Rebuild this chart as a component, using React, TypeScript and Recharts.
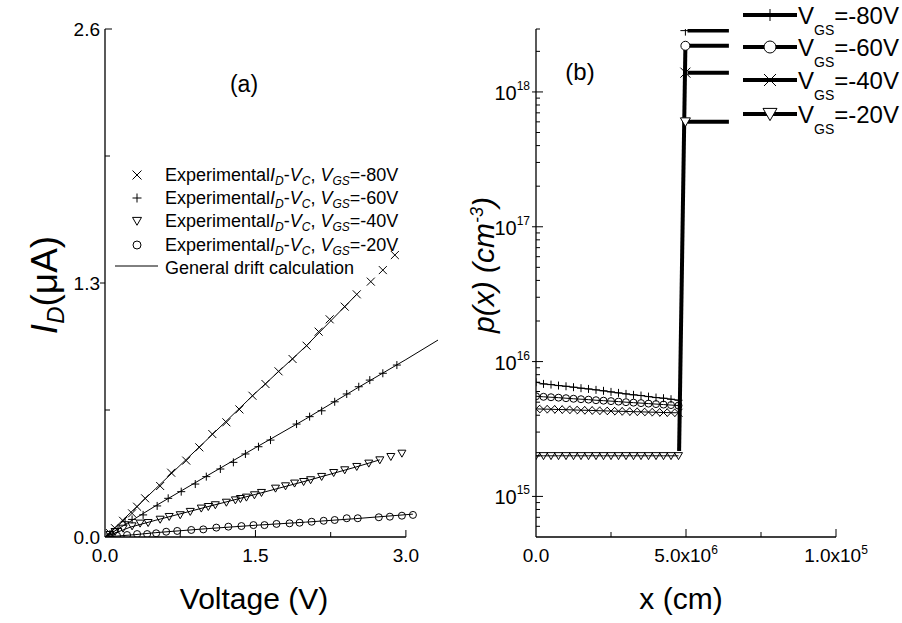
import React from 'react';
import { ScatterChart, Scatter, XAxis, YAxis, ReferenceLine, Legend, Label } from 'recharts';

const FONT = 'Arial, "Liberation Sans", Helvetica, sans-serif';

// ---------------- Panel (a) data ----------------
const xTicksA = [0, 0.75, 1.5, 2.25, 3.0];
const xTickLabelsA = ['0.0', '', '1.5', '', '3.0'];
const yTicksA = [0, 0.65, 1.3, 1.95, 2.6];
const yTickLabelsA = ['0.0', '', '1.3', '', '2.6'];

// experimental points, V_GS = -80 V (x markers)
const expV80 = [0.05, 0.1, 0.18, 0.27, 0.32, 0.4, 0.55, 0.66, 0.81, 0.94, 1.07, 1.21, 1.34, 1.47, 1.6, 1.73, 1.87, 2.01, 2.13, 2.24, 2.39, 2.51, 2.65, 2.77, 2.89];
const expI80 = [0.02, 0.045, 0.083, 0.121, 0.155, 0.198, 0.261, 0.329, 0.391, 0.459, 0.527, 0.587, 0.653, 0.723, 0.783, 0.848, 0.911, 0.979, 1.051, 1.114, 1.179, 1.242, 1.307, 1.366, 1.443];
// V_GS = -60 V (+ markers)
const expV60 = [0.05, 0.13, 0.2, 0.27, 0.38, 0.52, 0.63, 0.76, 0.9, 1.01, 1.15, 1.28, 1.4, 1.53, 1.65, 1.91, 2.04, 2.16, 2.29, 2.41, 2.53, 2.64, 2.77, 2.91];
const expI60 = [0.015, 0.044, 0.078, 0.09, 0.113, 0.159, 0.198, 0.232, 0.271, 0.309, 0.348, 0.382, 0.425, 0.462, 0.496, 0.578, 0.616, 0.646, 0.692, 0.732, 0.769, 0.803, 0.838, 0.88];
// V_GS = -40 V (triangles)
const expV40 = [0.05, 0.1, 0.18, 0.27, 0.35, 0.43, 0.55, 0.64, 0.75, 0.85, 0.96, 1.03, 1.1, 1.21, 1.3, 1.35, 1.41, 1.49, 1.56, 1.7, 1.8, 1.89, 1.98, 2.05, 2.16, 2.28, 2.39, 2.51, 2.63, 2.74, 2.85, 2.96];
const expI40 = [0.012, 0.027, 0.044, 0.056, 0.07, 0.073, 0.09, 0.104, 0.113, 0.13, 0.147, 0.155, 0.164, 0.177, 0.189, 0.196, 0.203, 0.215, 0.227, 0.249, 0.261, 0.275, 0.283, 0.292, 0.309, 0.329, 0.343, 0.36, 0.377, 0.394, 0.411, 0.428];
// V_GS = -20 V (circles)
const expV20 = [0.12, 0.22, 0.32, 0.42, 0.51, 0.61, 0.72, 0.86, 0.98, 1.11, 1.23, 1.36, 1.48, 1.59, 1.71, 1.84, 1.94, 2.06, 2.18, 2.29, 2.41, 2.52, 2.73, 2.84, 2.96, 3.07];
const expI20 = [0.006, 0.01, 0.015, 0.015, 0.019, 0.027, 0.031, 0.036, 0.039, 0.048, 0.053, 0.056, 0.061, 0.061, 0.067, 0.07, 0.073, 0.078, 0.083, 0.087, 0.096, 0.096, 0.101, 0.104, 0.109, 0.113];

// general drift calculation curves
const fitV80 = [0, 0.5, 1.0, 1.5, 2.0, 2.51];
const fitI80 = [0, 0.245, 0.49, 0.737, 0.975, 1.242];
const fitV60 = [0, 0.5, 1.0, 1.5, 2.0, 2.5, 3.0, 3.32];
const fitI60 = [0, 0.158, 0.308, 0.457, 0.604, 0.758, 0.908, 1.008];
const fitV40 = [0, 0.25, 0.5, 1.0, 1.5, 2.0, 2.5, 2.74];
const fitI40 = [0, 0.05, 0.085, 0.152, 0.218, 0.286, 0.358, 0.395];
const fitV20 = [0, 0.3, 0.5, 1.0, 1.5, 2.0, 2.5, 3.07];
const fitI20 = [0, 0.012, 0.022, 0.042, 0.06, 0.076, 0.094, 0.117];

const vgsA = ['-80V', '-60V', '-40V', '-20V'];
const fitLabel = 'General drift calculation';

// ---------------- Panel (b) data ----------------
const xB = [0, 0.25e-6, 0.5e-6, 0.75e-6, 1.0e-6, 1.25e-6, 1.5e-6, 1.75e-6, 2.0e-6, 2.25e-6, 2.5e-6, 2.75e-6, 3.0e-6, 3.25e-6, 3.5e-6, 3.75e-6, 4.0e-6, 4.25e-6, 4.5e-6, 4.75e-6];
const p80 = [7.03e15, 6.83e15, 6.75e15, 6.64e15, 6.56e15, 6.46e15, 6.35e15, 6.27e15, 6.17e15, 6.07e15, 5.96e15, 5.86e15, 5.76e15, 5.67e15, 5.6e15, 5.5e15, 5.41e15, 5.35e15, 5.26e15, 5.17e15];
const p60 = [5.53e15, 5.48e15, 5.44e15, 5.4e15, 5.35e15, 5.3e15, 5.26e15, 5.22e15, 5.17e15, 5.13e15, 5.09e15, 5.05e15, 5.0e15, 4.96e15, 4.92e15, 4.88e15, 4.84e15, 4.8e15, 4.76e15, 4.72e15];
const p40 = [4.46e15, 4.44e15, 4.43e15, 4.41e15, 4.4e15, 4.38e15, 4.36e15, 4.35e15, 4.33e15, 4.31e15, 4.3e15, 4.28e15, 4.27e15, 4.25e15, 4.24e15, 4.22e15, 4.21e15, 4.19e15, 4.18e15, 4.17e15];
const p20 = [2.0e15, 2.0e15, 2.0e15, 2.0e15, 2.0e15, 2.0e15, 2.0e15, 2.0e15, 2.0e15, 2.0e15, 2.0e15, 2.0e15, 2.0e15, 2.0e15, 2.0e15, 2.0e15, 2.0e15, 2.0e15, 2.0e15, 2.0e15];

// steep rise at the interface and the accumulation plateaus
const riseX = [4.77e-6, 4.98e-6];
const riseP = [2.17e15, 2.2e18];
const jumpX = 4.98e-6;
const topP = [2.85e18, 2.2e18, 1.39e18, 6.0e17];
const plateauX = [5.05e-6, 6.43e-6];

const xTicksB = [0, 2.5e-6, 5e-6, 7.5e-6, 1e-5];
const xTickMantB = ['0.0', '', '5.0x10', '', '1.0x10'];
const xTickExpB = ['', '', '6', '', '5'];
const yMajorB = [1e15, 1e16, 1e17, 1e18];
const yMajorExpB = ['15', '16', '17', '18'];
const yMinorB = [6e14, 7e14, 8e14, 9e14, 2e15, 3e15, 4e15, 5e15, 6e15, 7e15, 8e15, 9e15, 2e16, 3e16, 4e16, 5e16, 6e16, 7e16, 8e16, 9e16, 2e17, 3e17, 4e17, 5e17, 6e17, 7e17, 8e17, 9e17, 2e18, 2.93e18];
const vgsB = ['-80V', '-60V', '-40V', '-20V'];

const zip = (xs: number[], ys: number[]) => xs.map((x, i) => ({ x, y: ys[i] }));

// ---------------- markers ----------------
type Kind = 'x' | 'plus' | 'tri' | 'circ';
function Marker({ kind, cx, cy, s, fill = 'none', sw = 1 }: { kind: Kind; cx: number; cy: number; s: number; fill?: string; sw?: number }) {
  if (cx == null || cy == null || isNaN(cx) || isNaN(cy)) return <g />;
  if (kind === 'x')
    return <path d={`M${cx - s},${cy - s}L${cx + s},${cy + s}M${cx - s},${cy + s}L${cx + s},${cy - s}`} stroke="#000" strokeWidth={sw} fill="none" />;
  if (kind === 'plus')
    return <path d={`M${cx - s},${cy}H${cx + s}M${cx},${cy - s}V${cy + s}`} stroke="#000" strokeWidth={sw} fill="none" />;
  if (kind === 'tri')
    return <path d={`M${cx - s},${cy - s * 0.8}L${cx + s},${cy - s * 0.8}L${cx},${cy + s * 0.95}Z`} stroke="#000" strokeWidth={sw} fill={fill} />;
  return <circle cx={cx} cy={cy} r={s} stroke="#000" strokeWidth={sw} fill={fill} />;
}

const kindsA: Kind[] = ['x', 'plus', 'tri', 'circ'];
const kindsB: Kind[] = ['plus', 'circ', 'x', 'tri'];

// ---------------- layout ----------------
const BX = 460; // left of panel (b) chart
const rowsA = [175, 198, 221, 245];
const fitRowA = 268;
const rowsB = [15, 47, 80, 114];

// ---------------- ticks ----------------
const TickAX = (props: any) => {
  const { x, y, payload } = props;
  const i = xTicksA.indexOf(payload.value);
  const label = xTickLabelsA[i] || '';
  const len = payload.value === 0 ? 0 : label ? 7 : 5;
  return (
    <g>
      {len > 0 && <line x1={x} x2={x} y1={y} y2={y - len} stroke="#000" strokeWidth={1} />}
      {label && (
        <text x={x} y={y + 25} textAnchor="middle" fontSize={19} fontFamily={FONT} fill="#000">
          {label}
        </text>
      )}
    </g>
  );
};

const tickDirA = ['none', 'in', 'out', 'in', 'in'];
const TickAY = (props: any) => {
  const { x, y, payload } = props;
  const i = yTicksA.indexOf(payload.value);
  const label = yTickLabelsA[i] || '';
  const dir = tickDirA[i];
  return (
    <g>
      {dir === 'in' && <line x1={x} x2={x + (label ? 7 : 5)} y1={y} y2={y} stroke="#000" strokeWidth={1} />}
      {dir === 'out' && <line x1={x - 5} x2={x} y1={y} y2={y} stroke="#000" strokeWidth={1} />}
      {label && (
        <text x={x - 5} y={y + 7} textAnchor="end" fontSize={19} fontFamily={FONT} fill="#000">
          {label}
        </text>
      )}
    </g>
  );
};

const TickBX = (props: any) => {
  const { x, y, payload } = props;
  const i = xTicksB.indexOf(payload.value);
  const mant = xTickMantB[i] || '';
  const ex = xTickExpB[i] || '';
  const len = payload.value === 0 ? 0 : mant ? 8 : 5;
  return (
    <g>
      {len > 0 && <line x1={x} x2={x} y1={y} y2={y - len} stroke="#000" strokeWidth={1} />}
      {mant && (
        <text x={x} y={y + 25} textAnchor="middle" fontSize={19} fontFamily={FONT} fill="#000">
          {mant}
          {ex && (
            <tspan dy={-8} fontSize={12}>
              {ex}
            </tspan>
          )}
        </text>
      )}
    </g>
  );
};

const TickBY = (props: any) => {
  const { x, y, payload } = props;
  const mi = yMajorB.indexOf(payload.value);
  if (mi >= 0) {
    return (
      <g>
        <line x1={x - 4} x2={x + 7} y1={y} y2={y} stroke="#000" strokeWidth={1} />
        <text x={x - 6} y={y + 8} textAnchor="end" fontSize={20} fontFamily={FONT} fill="#000">
          10
          <tspan dy={-10} fontSize={12}>
            {yMajorExpB[mi]}
          </tspan>
        </text>
      </g>
    );
  }
  return <line x1={x} x2={x + 4} y1={y} y2={y} stroke="#000" strokeWidth={1} />;
};

// ---------------- labels & legends ----------------
const XLabelA = () => (
  <text x={254} y={609} textAnchor="middle" fontSize={30} fontFamily={FONT} fill="#000">
    Voltage (V)
  </text>
);
const YLabelA = () => (
  <g>
    <text transform="translate(57,285) rotate(-90)" textAnchor="middle" fontSize={37} fontFamily={FONT} fill="#000">
      <tspan fontStyle="italic">I</tspan>
      <tspan fontStyle="italic" fontSize={24} dy={7}>
        D
      </tspan>
      <tspan dy={-7}>(μA)</tspan>
    </text>
    <text x={244} y={92} textAnchor="middle" fontSize={23} fontFamily={FONT} fill="#000">
      (a)
    </text>
  </g>
);

const XLabelB = () => (
  <text x={681 - BX} y={609} textAnchor="middle" fontSize={30} fontFamily={FONT} fill="#000">
    x (cm)
  </text>
);
const YLabelB = () => (
  <g>
    <text transform={`translate(${494 - BX},265) rotate(-90)`} textAnchor="middle" fontSize={30} fontFamily={FONT} fontStyle="italic" fill="#000">
      p(x) (cm
      <tspan dy={-11} fontSize={18}>
        -3
      </tspan>
      <tspan dy={11}>)</tspan>
    </text>
    <text x={580 - BX} y={80} textAnchor="middle" fontSize={24} fontFamily={FONT} fill="#000">
      (b)
    </text>
  </g>
);

const LegendA = () => (
  <svg width={460} height={623} style={{ position: 'absolute', left: 0, top: 0, overflow: 'visible' }}>
    {vgsA.map((v, i) => (
      <g key={v}>
        <Marker kind={kindsA[i]} cx={137} cy={rowsA[i]} s={kindsA[i] === 'circ' ? 4 : 4.5} />
        <text x={165} y={rowsA[i] + 6} fontSize={18} fontFamily={FONT} fill="#000">
          Experimental
          <tspan fontStyle="italic">I</tspan>
          <tspan fontStyle="italic" fontSize={12} dy={4}>
            D
          </tspan>
          <tspan dy={-4}>-</tspan>
          <tspan fontStyle="italic">V</tspan>
          <tspan fontStyle="italic" fontSize={12} dy={4}>
            C
          </tspan>
          <tspan dy={-4}>, </tspan>
          <tspan fontStyle="italic">V</tspan>
          <tspan fontStyle="italic" fontSize={12} dy={4}>
            GS
          </tspan>
          <tspan dy={-4}>={v}</tspan>
        </text>
      </g>
    ))}
    <line x1={115} x2={158} y1={fitRowA - 2} y2={fitRowA - 2} stroke="#000" strokeWidth={1} />
    <text x={165} y={fitRowA + 6} fontSize={18} fontFamily={FONT} fill="#000">
      {fitLabel}
    </text>
  </svg>
);

const LegendB = () => (
  <svg width={442} height={623} style={{ position: 'absolute', left: 0, top: 0, overflow: 'visible' }}>
    <g transform={`translate(${-BX},0)`}>
      {vgsB.map((v, i) => (
        <g key={v}>
          <line x1={743} x2={797} y1={rowsB[i]} y2={rowsB[i]} stroke="#000" strokeWidth={4} />
          <Marker kind={kindsB[i]} cx={770} cy={rowsB[i]} s={kindsB[i] === 'circ' ? 6 : kindsB[i] === 'tri' ? 7 : 6} fill="#fff" />
          <text x={798} y={rowsB[i] + 9} fontSize={24} fontFamily={FONT} fill="#000">
            V
            <tspan dy={11} fontSize={14}>
              GS
            </tspan>
            <tspan dy={-11}>={v}</tspan>
          </text>
        </g>
      ))}
    </g>
  </svg>
);

const hidden = () => <g />;

export default function App() {
  const expA = [zip(expV80, expI80), zip(expV60, expI60), zip(expV40, expI40), zip(expV20, expI20)];
  const fitA = [zip(fitV80, fitI80), zip(fitV60, fitI60), zip(fitV40, fitI40), zip(fitV20, fitI20)];
  const lowB = [zip(xB, p80), zip(xB, p60), zip(xB, p40), zip(xB, p20)];
  const rise = zip(riseX, riseP);
  const plateaus = topP.map((p) => zip(plateauX, [p, p]));
  const jumps = topP.map((p) => [{ x: jumpX, y: p }]);

  return (
    <div style={{ position: 'absolute', left: 0, top: 0, width: 902, height: 623, background: '#fff', fontFamily: FONT }}>
      <div style={{ position: 'absolute', left: 0, top: 0 }}>
        <ScatterChart width={460} height={623} margin={{ top: 29, right: 22, bottom: 56, left: 65 }}>
          <XAxis
            type="number"
            dataKey="x"
            domain={[0, 3.32]}
            ticks={xTicksA}
            interval={0}
            axisLine={false}
            tickLine={false}
            tickSize={0}
            tickMargin={0}
            height={30}
            allowDataOverflow
            tick={(p: any) => <TickAX {...p} />}
          >
            <Label content={XLabelA} />
          </XAxis>
          <YAxis
            type="number"
            dataKey="y"
            domain={[0, 2.6]}
            ticks={yTicksA}
            interval={0}
            axisLine={{ stroke: '#000', strokeWidth: 1.3 }}
            tickLine={false}
            tickSize={0}
            tickMargin={0}
            width={40}
            allowDataOverflow
            tick={(p: any) => <TickAY {...p} />}
          >
            <Label content={YLabelA} />
          </YAxis>
          <ReferenceLine
            segment={[
              { x: 0, y: 0 },
              { x: 3.0, y: 0 },
            ]}
            stroke="#000"
            strokeWidth={1.3}
            ifOverflow="visible"
          />
          {fitA.map((d, i) => (
            <Scatter
              key={'fit' + i}
              data={d}
              line={{ stroke: '#000', strokeWidth: 1 }}
              lineType="joint"
              shape={hidden}
              isAnimationActive={false}
            />
          ))}
          {expA.map((d, i) => (
            <Scatter
              key={'exp' + i}
              data={d}
              shape={(p: any) => <Marker kind={kindsA[i]} cx={p.cx} cy={p.cy} s={kindsA[i] === 'circ' ? 3.5 : 4} />}
              isAnimationActive={false}
            />
          ))}
          <Legend layout="vertical" align="center" verticalAlign="middle" wrapperStyle={{ left: 0, top: 0, width: 460, height: 623, margin: 0, padding: 0, pointerEvents: 'none' }} content={() => <LegendA />} />
        </ScatterChart>
      </div>
      <div style={{ position: 'absolute', left: BX, top: 0 }}>
        <ScatterChart width={442} height={623} margin={{ top: 29, right: 66, bottom: 56, left: 36 }}>
          <XAxis
            type="number"
            dataKey="x"
            domain={[0, 1e-5]}
            ticks={xTicksB}
            interval={0}
            axisLine={{ stroke: '#000', strokeWidth: 1.3 }}
            tickLine={false}
            tickSize={0}
            tickMargin={0}
            height={30}
            allowDataOverflow
            tick={(p: any) => <TickBX {...p} />}
          >
            <Label content={XLabelB} />
          </XAxis>
          <YAxis
            type="number"
            dataKey="y"
            scale="log"
            domain={[5e14, 2.93e18]}
            ticks={[...yMajorB, ...yMinorB]}
            interval={0}
            axisLine={{ stroke: '#000', strokeWidth: 1.3 }}
            tickLine={false}
            tickSize={0}
            tickMargin={0}
            width={40}
            allowDataOverflow
            tick={(p: any) => <TickBY {...p} />}
          >
            <Label content={YLabelB} />
          </YAxis>
          {lowB.map((d, i) => (
            <Scatter
              key={'low' + i}
              data={d}
              line={{ stroke: '#000', strokeWidth: 1 }}
              lineType="joint"
              shape={(p: any) => <Marker kind={kindsB[i]} cx={p.cx} cy={p.cy} s={kindsB[i] === 'circ' ? 3.5 : 4} fill="none" />}
              isAnimationActive={false}
            />
          ))}
          <Scatter data={rise} line={{ stroke: '#000', strokeWidth: 4 }} lineType="joint" shape={hidden} isAnimationActive={false} />
          {plateaus.map((d, i) => (
            <Scatter key={'pl' + i} data={d} line={{ stroke: '#000', strokeWidth: 4 }} lineType="joint" shape={hidden} isAnimationActive={false} />
          ))}
          {jumps.map((d, i) => (
            <Scatter
              key={'jp' + i}
              data={d}
              shape={(p: any) => <Marker kind={kindsB[i]} cx={p.cx} cy={p.cy} s={kindsB[i] === 'circ' ? 4.5 : 5} fill="#fff" />}
              isAnimationActive={false}
            />
          ))}
          <Legend layout="vertical" align="center" verticalAlign="middle" wrapperStyle={{ left: 0, top: 0, width: 442, height: 623, margin: 0, padding: 0, pointerEvents: 'none' }} content={() => <LegendB />} />
        </ScatterChart>
      </div>
    </div>
  );
}
